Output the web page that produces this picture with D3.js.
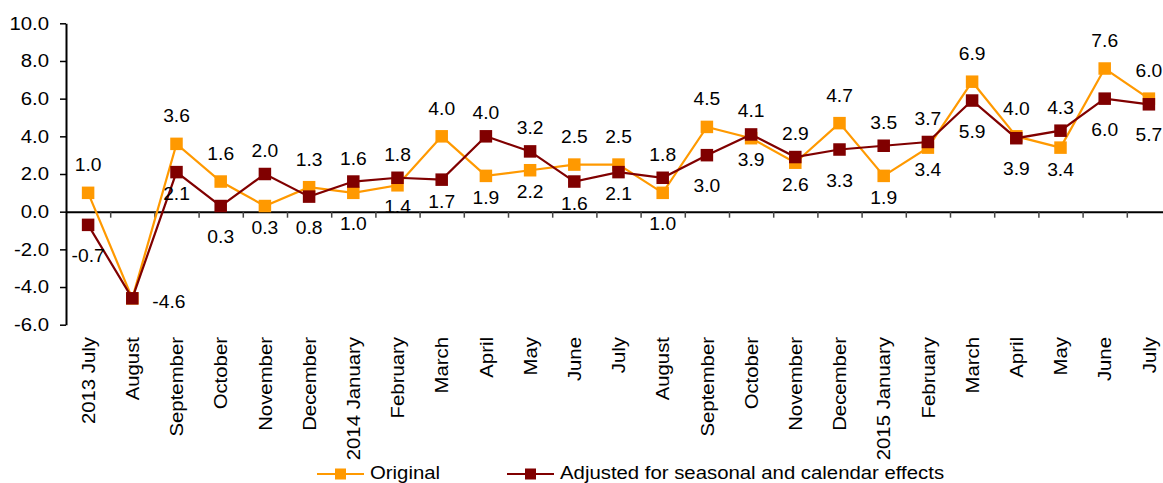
<!DOCTYPE html>
<html>
<head>
  <title>Original vs adjusted</title>
  <script src="https://cdn.jsdelivr.net/npm/d3@7"></script>
  <style>
    body { margin: 0; background: #fff; font-family: Arial, "Liberation Sans", sans-serif; }
    svg text { fill: #000; font-family: Arial, "Liberation Sans", sans-serif; }
  </style>
</head>
<body>
  <div id="chart"></div>
  <script>
    const months = ["2013 July", "August", "September", "October", "November", "December",
      "2014 January", "February", "March", "April", "May", "June", "July", "August",
      "September", "October", "November", "December", "2015 January", "February",
      "March", "April", "May", "June", "July"];
    const original = [1.0, -4.6, 3.6, 1.6, 0.3, 1.3, 1.0, 1.4, 4.0, 1.9, 2.2, 2.5, 2.5,
      1.0, 4.5, 3.9, 2.6, 4.7, 1.9, 3.4, 6.9, 4.0, 3.4, 7.6, 6.0];
    const adjusted = [-0.7, -4.6, 2.1, 0.3, 2.0, 0.8, 1.6, 1.8, 1.7, 4.0, 3.2, 1.6, 2.1,
      1.8, 3.0, 4.1, 2.9, 3.3, 3.5, 3.7, 5.9, 3.9, 4.3, 6.0, 5.7];
    // where each value label sits: t = above, b = below, B = further below, r = right, "" = none
    const originalLabelPos = ["t", "r", "t", "t", "b", "t", "B", "b", "t", "b", "b", "t", "t",
      "B", "t", "b", "b", "t", "b", "b", "t", "t", "b", "t", "t"];
    const adjustedLabelPos = ["B", "", "b", "B", "t", "B", "t", "t", "b", "t", "t", "b", "b",
      "t", "B", "t", "t", "B", "t", "t", "B", "B", "t", "B", "B"];
    const yTicks = [-6, -4, -2, 0, 2, 4, 6, 8, 10];
    const seriesNames = ["Original", "Adjusted for seasonal and calendar effects"];

    const W = 1163, H = 483;
    const left = 66, bandW = 44.2;
    const sx = 1.1; // the source text is a bit wider than Arial

    const svg = d3.select("#chart").append("svg")
      .attr("width", W).attr("height", H);

    const x = d3.scaleBand()
      .domain(d3.range(months.length))
      .range([left, left + bandW * months.length])
      .padding(0);
    const xEdge = d3.scaleLinear()
      .domain([0, months.length])
      .range([left, left + bandW * months.length]);
    const y = d3.scaleLinear().domain([-6, 10]).range([324.7, 23.3]);
    const cx = i => x(i) + x.bandwidth() / 2;

    // place a text at (px,py) and widen it a little
    function putText(sel, px, py) {
      sel.attr("x", null).attr("y", null)
        .attr("transform", (d, i) => `translate(${px(d, i)},${py(d, i)}) scale(${sx},1)`);
    }

    // y axis
    const yAxis = svg.append("g")
      .attr("transform", `translate(${left},0)`)
      .call(d3.axisLeft(y).tickValues(yTicks).tickFormat(d => d.toFixed(1))
        .tickSize(6).tickSizeOuter(0).tickPadding(11));
    yAxis.select(".domain").attr("stroke", "#000").attr("stroke-width", 2);
    yAxis.selectAll(".tick line").attr("stroke", "#000").attr("stroke-width", 1.5);
    yAxis.selectAll(".tick text")
      .attr("font-size", null).attr("font-family", null)
      .style("font-size", "18.5px")
      .call(putText, () => -17, () => 0);

    // x axis along zero, ticks between categories
    const xAxis = svg.append("g")
      .attr("transform", `translate(0,${y(0)})`)
      .call(d3.axisBottom(xEdge).tickValues(d3.range(1, months.length + 1))
        .tickFormat("").tickSize(6).tickSizeOuter(0));
    xAxis.select(".domain").attr("stroke", "#000").attr("stroke-width", 2);
    xAxis.selectAll(".tick line").attr("stroke", "#444").attr("stroke-width", 1.5);

    // category labels, rotated
    svg.append("g").selectAll("text")
      .data(months)
      .join("text")
      .attr("transform", (d, i) => `translate(${cx(i)},337) rotate(-90) scale(${sx},1)`)
      .attr("text-anchor", "end")
      .attr("dy", "0.36em")
      .style("font-size", "18.5px")
      .text(d => d);

    const series = [
      { name: seriesNames[0], values: original, pos: originalLabelPos, color: "#FF9900", up: -21.5 },
      { name: seriesNames[1], values: adjusted, pos: adjustedLabelPos, color: "#800000", up: -17 }
    ];
    const labelDy = (s, p) => p === "t" ? s.up : p === "b" ? 28 : p === "B" ? 37 : 10;

    const line = d3.line().x((d, i) => cx(i)).y(d => y(d));
    const ms = 12.5;

    series.forEach(s => {
      const g = svg.append("g");
      g.append("path")
        .datum(s.values)
        .attr("fill", "none")
        .attr("stroke", s.color)
        .attr("stroke-width", 2.2)
        .attr("d", line);
      g.selectAll("rect")
        .data(s.values)
        .join("rect")
        .attr("x", (d, i) => cx(i) - ms / 2)
        .attr("y", d => y(d) - ms / 2)
        .attr("width", ms).attr("height", ms)
        .attr("fill", s.color);
    });

    // value labels on top
    series.forEach(s => {
      svg.append("g").selectAll("text")
        .data(s.values.map((v, i) => ({ v, i, p: s.pos[i] })).filter(d => d.p))
        .join("text")
        .attr("text-anchor", d => d.p === "r" ? "start" : "middle")
        .style("font-size", "17.5px")
        .text(d => d.v.toFixed(1))
        .call(putText,
          d => d.p === "r" ? cx(d.i) + 20 : cx(d.i),
          d => y(d.v) + labelDy(s, d.p));
    });

    // legend
    const legend = svg.append("g").attr("transform", "translate(0,474)");
    const legendX = [317, 507];
    series.forEach((s, k) => {
      const lg = legend.append("g").attr("transform", `translate(${legendX[k]},0)`);
      lg.append("line").attr("x1", 0).attr("x2", 47)
        .attr("stroke", s.color).attr("stroke-width", 2);
      lg.append("rect").attr("x", 18).attr("y", -5.5).attr("width", 11).attr("height", 11)
        .attr("fill", s.color);
      lg.append("text")
        .style("font-size", "18.5px")
        .text(s.name)
        .call(putText, () => 53, () => 5);
    });
  </script>
</body>
</html>
